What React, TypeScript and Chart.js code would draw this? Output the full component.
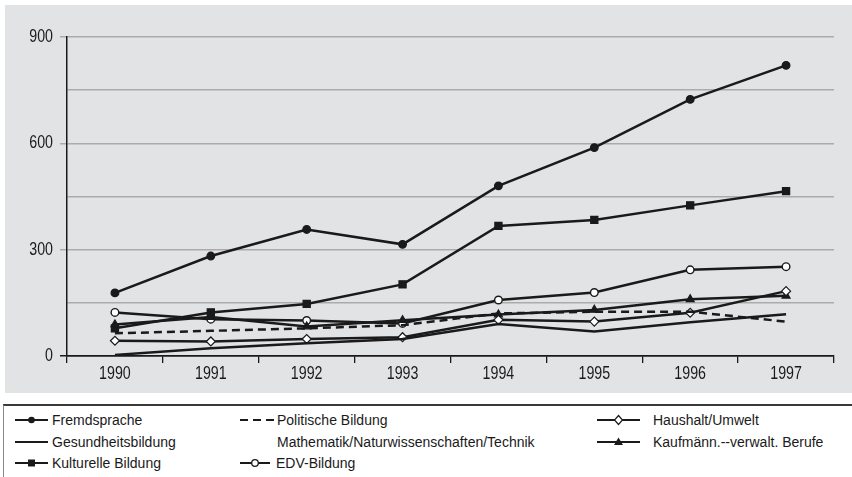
import React, { useEffect, useRef } from "react";
import { Chart, registerables } from "chart.js";

Chart.register(...registerables);

const years = ["1990", "1991", "1992", "1993", "1994", "1995", "1996", "1997"];
const fremdsprache = [178, 282, 357, 315, 480, 588, 724, 820];
const gesundheitsbildung = [3, 22, 36, 48, 90, 69, 95, 118];
const kulturelleBildung = [78, 123, 147, 202, 367, 384, 425, 465];
const politischeBildung = [64, 71, 78, 87, 120, 125, 125, 97];
const mathematik: (number | null)[] = [null, null, null, null, null, null, null, null];
const edvBildung = [123, 104, 100, 92, 158, 179, 243, 252];
const haushaltUmwelt = [43, 41, 48, 53, 102, 97, 122, 183];
const kaufmaennisch = [89, 110, 83, 101, 117, 130, 160, 170];
const yMin = 0;
const yMax = 900;
const yStep = 150;
const yLabelEvery = 300;

const FONT = "'Liberation Sans', Arial, sans-serif";
const INK = "#1a1a1a";
const TICK_SQUEEZE = 0.77;

type Sym = "circle" | "none" | "rect" | "dash" | "openCircle" | "diamond" | "triangle" | "blank";

const legendItems: { label: string; sym: Sym; x: number; tx: number; row: number; w: number }[] = [
  { label: "Fremdsprache", sym: "circle", x: 15, tx: 52, row: 0, w: 33 },
  { label: "Gesundheitsbildung", sym: "none", x: 15, tx: 52, row: 1, w: 33 },
  { label: "Kulturelle Bildung", sym: "rect", x: 15, tx: 52, row: 2, w: 33 },
  { label: "Politische Bildung", sym: "dash", x: 240, tx: 277, row: 0, w: 35 },
  { label: "Mathematik/Naturwissenschaften/Technik", sym: "blank", x: 240, tx: 277, row: 1, w: 35 },
  { label: "EDV-Bildung", sym: "openCircle", x: 240, tx: 276, row: 2, w: 30 },
  { label: "Haushalt/Umwelt", sym: "diamond", x: 597, tx: 653, row: 0, w: 43 },
  { label: "Kaufmänn.--verwalt. Berufe", sym: "triangle", x: 597, tx: 653, row: 1, w: 43 },
];

function Symbol({ sym, w }: { sym: Sym; w: number }) {
  const h = 12;
  const cy = 6;
  const cx = w / 2;
  if (sym === "blank") return <svg width={w} height={h} />;
  let line: React.ReactNode = <line x1={0} y1={cy} x2={w} y2={cy} stroke={INK} strokeWidth={2} />;
  if (sym === "dash") line = <line x1={0} y1={cy} x2={w} y2={cy} stroke={INK} strokeWidth={2} strokeDasharray="8 5" />;
  let mark: React.ReactNode = null;
  if (sym === "circle") mark = <circle cx={cx} cy={cy} r={3.3} fill={INK} />;
  if (sym === "rect") mark = <rect x={cx - 3.5} y={cy - 3.5} width={7} height={7} fill={INK} />;
  if (sym === "openCircle") mark = <circle cx={cx} cy={cy} r={3.3} fill="#fff" stroke={INK} strokeWidth={1.3} />;
  if (sym === "diamond")
    mark = <polygon points={`${cx},${cy - 4.5} ${cx + 4},${cy} ${cx},${cy + 4.5} ${cx - 4},${cy}`} fill="#fff" stroke={INK} strokeWidth={1.2} />;
  if (sym === "triangle")
    mark = <polygon points={`${cx},${cy - 4.5} ${cx + 4.5},${cy + 3} ${cx - 4.5},${cy + 3}`} fill={INK} />;
  return (
    <svg width={w} height={h} style={{ display: "block" }}>
      {line}
      {mark}
    </svg>
  );
}

// Draws the axes' own tick labels horizontally condensed, like the reference's narrow typeface.
const condensedTicks = {
  id: "condensedTicks",
  beforeDraw(chart: any) {
    Object.values(chart.scales).forEach((scale: any) => {
      if (scale.__condensed) return;
      scale.__condensed = true;
      const orig = scale.drawLabels.bind(scale);
      scale.drawLabels = (area: any) => {
        const ctx = scale.ctx as any;
        const proto = Object.getPrototypeOf(ctx).fillText;
        ctx.fillText = function (text: string, x: number, y: number, maxW?: number) {
          this.save();
          this.translate(x, y);
          this.scale(TICK_SQUEEZE, 1);
          if (maxW === undefined) proto.call(this, text, 0, 0);
          else proto.call(this, text, 0, 0, maxW / TICK_SQUEEZE);
          this.restore();
        };
        try {
          orig(area);
        } finally {
          delete ctx.fillText;
        }
      };
    });
  },
};

export default function App() {
  const ref = useRef<HTMLCanvasElement>(null);

  useEffect(() => {
    if (!ref.current) return;
    const lineBase = {
      borderColor: INK,
      borderWidth: 2.5,
      tension: 0,
      pointBorderColor: INK,
      pointBorderWidth: 1.3,
    };
    const chart = new Chart(ref.current, {
      type: "line",
      plugins: [condensedTicks],
      data: {
        labels: years,
        datasets: [
          { ...lineBase, label: "Gesundheitsbildung", data: gesundheitsbildung, pointRadius: 0 },
          { ...lineBase, label: "Mathematik/Naturwissenschaften/Technik", data: mathematik, pointRadius: 0, borderWidth: 0 },
          { ...lineBase, label: "Politische Bildung", data: politischeBildung, pointRadius: 0, borderDash: [8, 5] },
          { ...lineBase, label: "Haushalt/Umwelt", data: haushaltUmwelt, pointStyle: "rectRot", pointRadius: 4.5, pointBackgroundColor: "#fff", pointBorderWidth: 1.2 },
          { ...lineBase, label: "Kaufmänn.--verwalt. Berufe", data: kaufmaennisch, pointStyle: "triangle", pointRadius: 4.5, pointBackgroundColor: INK },
          { ...lineBase, label: "EDV-Bildung", data: edvBildung, pointStyle: "circle", pointRadius: 3.8, pointBackgroundColor: "#fff", pointBorderWidth: 1.4 },
          { ...lineBase, label: "Kulturelle Bildung", data: kulturelleBildung, pointStyle: "rect", pointRadius: 5, pointBackgroundColor: INK },
          { ...lineBase, label: "Fremdsprache", data: fremdsprache, pointStyle: "circle", pointRadius: 3.8, pointBackgroundColor: INK },
        ],
      },
      options: {
        animation: false,
        responsive: false,
        devicePixelRatio: 1,
        layout: { padding: { top: 32, right: 18, left: 0, bottom: 0 } },
        plugins: { legend: { display: false }, tooltip: { enabled: false } },
        scales: {
          x: {
            type: "category",
            offset: true,
            grid: { offset: true, drawOnChartArea: false, color: INK, tickLength: 7, lineWidth: 1.3 },
            border: { color: INK, width: 1.5 },
            ticks: { color: INK, font: { family: FONT, size: 18.5 }, padding: 0, maxRotation: 0, autoSkip: false },
            afterFit: (s: any) => {
              s.height = 37;
            },
          },
          y: {
            min: yMin,
            max: yMax,
            grid: {
              color: (c: any) => (c.tick && c.tick.value === 0 ? INK : "#ababab"),
              lineWidth: 1.5,
              tickLength: 7,
              tickColor: (c: any) =>
                c.tick && c.tick.value % yLabelEvery === 0 ? (c.tick.value === 0 ? INK : "#ababab") : "rgba(0,0,0,0)",
            },
            border: { color: INK, width: 1.5 },
            ticks: {
              stepSize: yStep,
              color: INK,
              font: { family: FONT, size: 18.5 },
              padding: 7,
              callback: (v: any) => (Number(v) % yLabelEvery === 0 ? String(v) : ""),
            },
            afterFit: (s: any) => {
              s.width = 62;
            },
          },
        },
      },
    });
    chart.draw();
    return () => chart.destroy();
  }, []);

  return (
    <div style={{ position: "absolute", left: 0, top: 0, width: 852, height: 477, background: "#fff", overflow: "hidden" }}>
      <div style={{ position: "absolute", left: 5, top: 5, width: 847, height: 388, background: "#e2e3e5" }}>
        <canvas ref={ref} width={847} height={388} style={{ display: "block", width: 847, height: 388 }} />
      </div>
      <div
        style={{
          position: "absolute",
          left: 3,
          top: 404,
          width: 860,
          height: 90,
          borderTop: "2px solid #3a3a3a",
          borderLeft: "1.5px solid #8a8a8a",
          background: "#fff",
        }}
      />
      {legendItems.map((it) => {
        const cy = 420 + it.row * 21.5;
        return (
          <React.Fragment key={it.label}>
            <div style={{ position: "absolute", left: it.x, top: cy - 6 }}>
              <Symbol sym={it.sym} w={it.w} />
            </div>
            <div
              style={{
                position: "absolute",
                left: it.tx,
                top: cy - 11,
                height: 22,
                lineHeight: "22px",
                fontFamily: FONT,
                fontSize: 14,
                color: INK,
                whiteSpace: "nowrap",
              }}
            >
              {it.label}
            </div>
          </React.Fragment>
        );
      })}
    </div>
  );
}
